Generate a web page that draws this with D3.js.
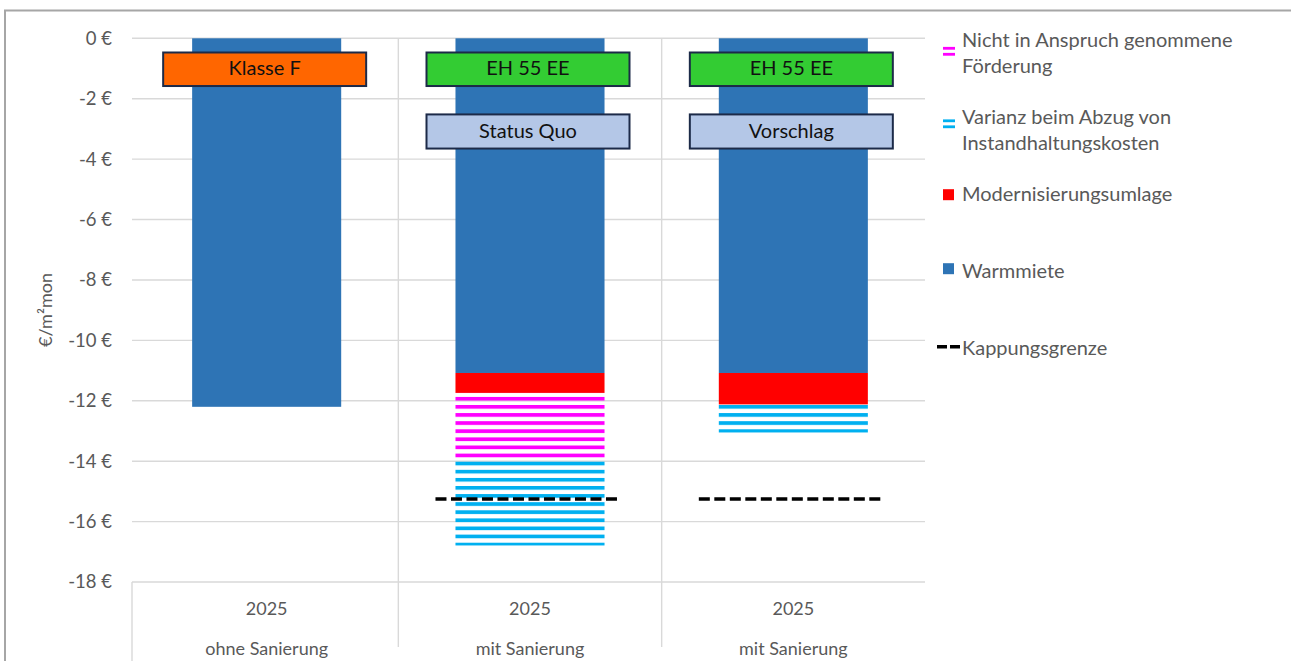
<!DOCTYPE html>
<html><head><meta charset="utf-8">
<script src="https://cdn.jsdelivr.net/npm/d3@7"></script>
<style>
body{margin:0;background:#fff}
svg{display:block}
text{font-family:Lato,"Open Sans",sans-serif}
</style>
</head><body>
<svg id="chart" width="1291" height="661"></svg>
<script>
// ---- data ----
const categories = ["ohne Sanierung", "mit Sanierung", "mit Sanierung"];
const years = ["2025", "2025", "2025"];
const warmmiete = [-12.2, -11.08, -11.08];
const modernisierungsumlage = [0, -0.66, -1.04];
const nichtFoerderung = [0, -2.16, 0];
const varianz = [0, -2.89, -0.93];
const kappungsgrenze = [null, -15.25, -15.25];
const yTicks = [0, -2, -4, -6, -8, -10, -12, -14, -16, -18];
const labelRow1 = ["Klasse F", "EH 55 EE", "EH 55 EE"];
const labelRow2 = [null, "Status Quo", "Vorschlag"];
const seriesKeys = ["warm", "mod", "nicht", "var"];
const legendLabels = [
  ["Nicht in Anspruch genommene", "Förderung"],
  ["Varianz beim Abzug von", "Instandhaltungskosten"],
  ["Modernisierungsumlage"],
  ["Warmmiete"],
  ["Kappungsgrenze"]
];

// ---- styles ----
const colors = {warm: "#2e74b5", mod: "#ff0000", nicht: "#ff00ff", var: "#00b0f0"};
const row1Colors = ["#ff6600", "#33cc33", "#33cc33"];
const row2Color = "#b4c7e7";
const textGray = "#595959";
const gridGray = "#d9d9d9";

const svg = d3.select("#chart");
const W = 1291, H = 661;

// outer frame
svg.append("rect").attr("x", 5).attr("y", 10.5).attr("width", 1295).attr("height", 700)
  .attr("fill", "none").attr("stroke", "#a6a6a6").attr("stroke-width", 2);

const y = d3.scaleLinear().domain([-18, 0]).range([582, 38.3]);
const x = d3.scaleBand().domain(d3.range(categories.length)).range([135, 925])
  .paddingInner(0.434).paddingOuter(0.217);
const plotL = 132, plotR = 925;

// patterns
const defs = svg.append("defs");
["nicht", "var"].forEach(k => {
  const p = defs.append("pattern").attr("id", "pat-" + k)
    .attr("patternUnits", "userSpaceOnUse").attr("width", 10).attr("height", 8.1);
  p.append("rect").attr("x", 0).attr("y", 0).attr("width", 10).attr("height", 3.7).attr("fill", colors[k]);
});

// gridlines
svg.append("g").selectAll("line").data(yTicks).join("line")
  .attr("x1", plotL).attr("x2", plotR)
  .attr("y1", d => y(d)).attr("y2", d => y(d))
  .attr("stroke", gridGray).attr("stroke-width", 1.4);

// category dividers
const step = x.step(), halfGap = step * x.paddingInner() / 2;
svg.append("g").selectAll("line").data(d3.range(1, categories.length)).join("line")
  .attr("x1", i => x(i) - halfGap).attr("x2", i => x(i) - halfGap)
  .attr("y1", y(0)).attr("y2", 647)
  .attr("stroke", gridGray).attr("stroke-width", 1.4);
svg.append("line").attr("x1", plotL).attr("x2", plotL).attr("y1", y(-18)).attr("y2", H)
  .attr("stroke", gridGray).attr("stroke-width", 1.4);

// y axis
const yAxis = svg.append("g").attr("transform", `translate(${plotL},0)`)
  .call(d3.axisLeft(y).tickValues(yTicks).tickFormat(d => d + " €").tickSize(0).tickPadding(20));
yAxis.select(".domain").remove();
yAxis.selectAll("text").attr("fill", textGray).style("font-size", "18.5px").style("font-family", "Lato");

svg.append("text").attr("transform", "translate(47,310) rotate(-90)")
  .attr("text-anchor", "middle").attr("dominant-baseline", "middle")
  .attr("fill", textGray).style("font-size", "18px")
  .text("€/m²mon");

// stacked bars
const table = categories.map((c, i) => ({
  idx: i, warm: warmmiete[i], mod: modernisierungsumlage[i], nicht: nichtFoerderung[i], var: varianz[i]
}));
const stacked = d3.stack().keys(seriesKeys).offset(d3.stackOffsetDiverging)(table);
const fillFor = k => (k === "nicht" || k === "var") ? `url(#pat-${k})` : colors[k];
svg.append("g").selectAll("g").data(stacked).join("g")
  .attr("fill", s => fillFor(s.key))
  .selectAll("rect").data(s => s).join("rect")
  .attr("x", d => x(d.data.idx))
  .attr("width", x.bandwidth())
  .attr("y", d => y(Math.max(d[0], d[1])))
  .attr("height", d => Math.abs(y(d[0]) - y(d[1])));

// Kappungsgrenze
svg.append("g").selectAll("line").data(kappungsgrenze.map((v, i) => ({v, i})).filter(d => d.v != null)).join("line")
  .attr("x1", d => x(d.i) - 20).attr("x2", d => x(d.i) + x.bandwidth() + 16)
  .attr("y1", d => y(d.v)).attr("y2", d => y(d.v))
  .attr("stroke", "#000").attr("stroke-width", 3.5).attr("stroke-dasharray", "11,4.5");

// label boxes
const boxW = 203;
function drawBoxes(labels, fills, top, bottom) {
  const g = svg.append("g").selectAll("g").data(labels.map((t, i) => ({t, i})).filter(d => d.t)).join("g");
  g.append("rect")
    .attr("x", d => x(d.i) + x.bandwidth() / 2 - 2 - boxW / 2).attr("width", boxW)
    .attr("y", y(top)).attr("height", y(bottom) - y(top))
    .attr("fill", d => typeof fills === "string" ? fills : fills[d.i])
    .attr("stroke", "#1c2a48").attr("stroke-width", 2);
  g.append("text")
    .attr("x", d => x(d.i) + x.bandwidth() / 2 - 2)
    .attr("y", (y(top) + y(bottom)) / 2 + 1)
    .attr("text-anchor", "middle").attr("dominant-baseline", "middle")
    .attr("fill", "#111").style("font-size", "20px")
    .text(d => d.t);
}
drawBoxes(labelRow1, row1Colors, -0.47, -1.58);
drawBoxes(labelRow2, row2Color, -2.52, -3.65);

// category labels
svg.append("g").selectAll("text").data(years.map((t, i) => ({t, i}))).join("text")
  .attr("x", d => x(d.i) + x.bandwidth() / 2).attr("y", 615)
  .attr("text-anchor", "middle").attr("fill", textGray).style("font-size", "18px")
  .text(d => d.t);
svg.append("g").selectAll("text").data(categories.map((t, i) => ({t, i}))).join("text")
  .attr("x", d => x(d.i) + x.bandwidth() / 2).attr("y", 655)
  .attr("text-anchor", "middle").attr("fill", textGray).style("font-size", "18px")
  .text(d => d.t);

// legend
const legendKeys = ["nicht", "var", "mod", "warm", "kapp"];
const markerOffsets = [5, 0.5, -6, -9, -8];
const lg = svg.append("g");
legendKeys.forEach((k, i) => {
  const base = 46.7 + i * 77;
  const g = lg.append("g");
  legendLabels[i].forEach((line, j) => {
    g.append("text").attr("x", 962).attr("y", base + j * 26)
      .attr("fill", textGray).style("font-size", "20px").text(line);
  });
  const cy = base + markerOffsets[i];
  if (k === "nicht" || k === "var") {
    [-3.5, 2.5].forEach(o => g.append("rect").attr("x", 943).attr("y", cy + o - 1.3)
      .attr("width", 12).attr("height", 2.8).attr("fill", colors[k]));
  } else if (k === "kapp") {
    g.append("line").attr("x1", 937).attr("x2", 960).attr("y1", cy).attr("y2", cy)
      .attr("stroke", "#000").attr("stroke-width", 3.5).attr("stroke-dasharray", "10,3");
  } else {
    g.append("rect").attr("x", 943).attr("y", cy - 5.5).attr("width", 11).attr("height", 11)
      .attr("fill", colors[k]);
  }
});
</script>
</body></html>
